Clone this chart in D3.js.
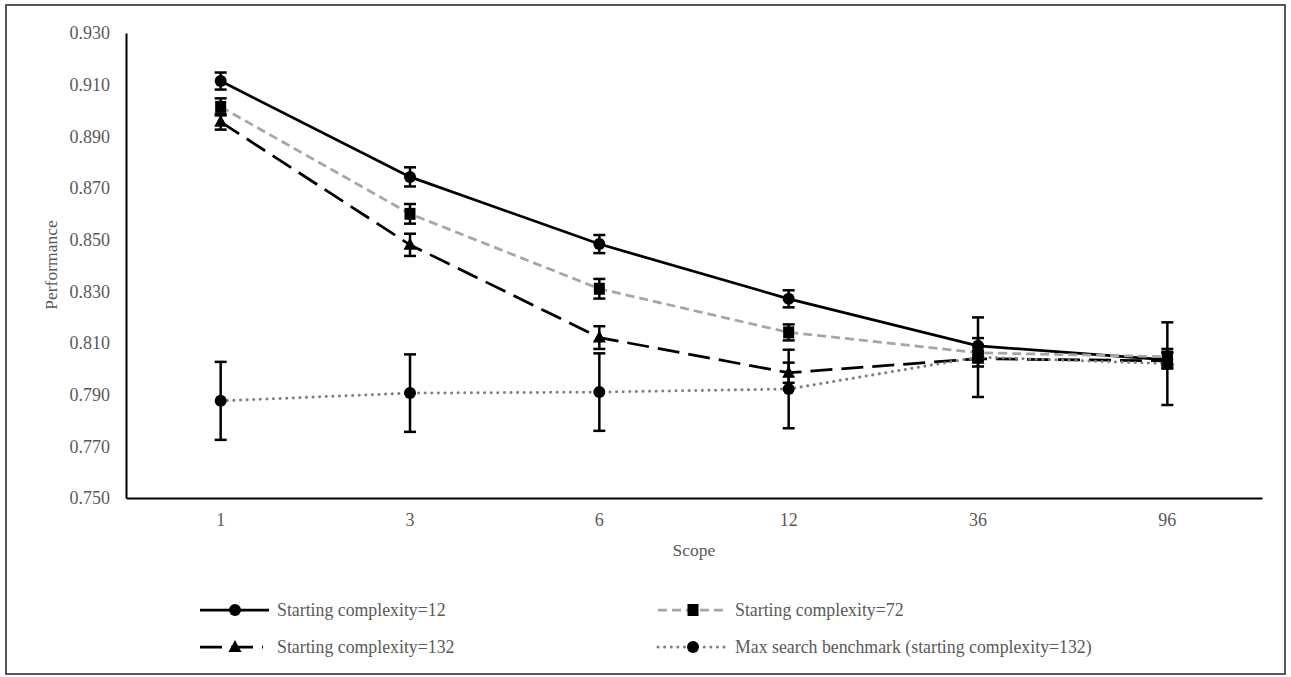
<!DOCTYPE html>
<html>
<head>
<meta charset="utf-8">
<script src="https://cdn.jsdelivr.net/npm/d3@7/dist/d3.min.js"></script>
<style>
  html, body { margin: 0; padding: 0; background: #fff; }
  svg { display: block; }
  text { font-family: "Liberation Serif", "Times New Roman", serif; fill: #595959; }
</style>
</head>
<body>
<svg id="chart" width="1291" height="677"></svg>
<script>
// Scope levels on the x axis
const scopes = ["1", "3", "6", "12", "36", "96"];
const yTicks = [0.75, 0.77, 0.79, 0.81, 0.83, 0.85, 0.87, 0.89, 0.91, 0.93];

// Mean performance per scope, with error-bar half widths
const complexity12 = [0.9114, 0.8743, 0.8483, 0.8271, 0.8089, 0.8035];
const complexity12Err = [0.0033, 0.0037, 0.0035, 0.0033, 0.0030, 0.0030];
const complexity72 = [0.9014, 0.8600, 0.8310, 0.8141, 0.8062, 0.8047];
const complexity72Err = [0.0033, 0.0038, 0.0038, 0.0031, 0.0030, 0.0030];
const complexity132 = [0.8956, 0.8480, 0.8121, 0.7985, 0.8039, 0.8031];
const complexity132Err = [0.0030, 0.0043, 0.0044, 0.0039, 0.0030, 0.0030];
const maxSearch = [0.7876, 0.7906, 0.7910, 0.7922, 0.8045, 0.8020];
const maxSearchErr = [0.0151, 0.0150, 0.0150, 0.0152, 0.0154, 0.0160];

const seriesNames = [
  "Starting complexity=12",
  "Starting complexity=72",
  "Starting complexity=132",
  "Max search benchmark (starting complexity=132)"
];

const series = [
  { name: seriesNames[0], values: complexity12, err: complexity12Err,
    color: "#000", dash: null, width: 2.75, cap: "butt", marker: "circle" },
  { name: seriesNames[1], values: complexity72, err: complexity72Err,
    color: "#a6a6a6", dash: "9,5", width: 2.75, cap: "butt", marker: "square" },
  { name: seriesNames[2], values: complexity132, err: complexity132Err,
    color: "#000", dash: "22,9", width: 2.75, cap: "butt", marker: "triangle" },
  { name: seriesNames[3], values: maxSearch, err: maxSearchErr,
    color: "#7f7f7f", dash: "0.1,6.5", width: 3, cap: "round", marker: "circle" }
];

const svg = d3.select("#chart");

// outer frame
svg.append("rect")
  .attr("x", 6).attr("y", 5).attr("width", 1279).attr("height", 669)
  .attr("fill", "none").attr("stroke", "#404040").attr("stroke-width", 1.75);

const x = d3.scaleBand().domain(scopes).range([126, 1262]);
const y = d3.scaleLinear().domain([0.75, 0.93]).range([498, 33]);

// axes
const yAxis = svg.append("g").attr("transform", "translate(126,0)")
  .call(d3.axisLeft(y).tickValues(yTicks).tickFormat(d3.format(".3f")).tickSize(0).tickPadding(16));
yAxis.select(".domain").attr("stroke", "#000").attr("stroke-width", 2);
yAxis.selectAll("text").style("font-size", "18px").attr("fill", "#595959")
  .style("font-family", "Liberation Serif");

const xAxis = svg.append("g").attr("transform", "translate(0,498)")
  .call(d3.axisBottom(x).tickSize(0).tickPadding(15));
xAxis.select(".domain").attr("stroke", "#000").attr("stroke-width", 2);
xAxis.selectAll("text").style("font-size", "18px").attr("fill", "#595959")
  .style("font-family", "Liberation Serif");

// axis titles
svg.append("text").attr("x", 694).attr("y", 556)
  .attr("text-anchor", "middle").style("font-size", "17.5px").text("Scope");
svg.append("text")
  .attr("transform", "translate(57,265) rotate(-90)")
  .attr("text-anchor", "middle").style("font-size", "17.5px").text("Performance");

const cx = i => x(scopes[i]) + x.bandwidth() / 2;

function drawMarker(g, type, px, py) {
  if (type === "circle") {
    g.append("circle").attr("cx", px).attr("cy", py).attr("r", 6).attr("fill", "#000");
  } else if (type === "square") {
    g.append("rect").attr("x", px - 5.5).attr("y", py - 6).attr("width", 11).attr("height", 12).attr("fill", "#000");
  } else {
    g.append("path")
      .attr("d", `M${px},${py - 7}L${px + 6.5},${py + 5}L${px - 6.5},${py + 5}Z`)
      .attr("fill", "#000");
  }
}

const plot = svg.append("g");
series.forEach(s => {
  const g = plot.append("g");
  const line = d3.line().x((d, i) => cx(i)).y(d => y(d));
  g.append("path").datum(s.values)
    .attr("d", line)
    .attr("fill", "none")
    .attr("stroke", s.color)
    .attr("stroke-width", s.width)
    .attr("stroke-linecap", s.cap)
    .attr("stroke-dasharray", s.dash);

  // error bars
  s.values.forEach((v, i) => {
    const px = cx(i), top = y(v + s.err[i]), bot = y(v - s.err[i]);
    g.append("line").attr("x1", px).attr("x2", px).attr("y1", top).attr("y2", bot)
      .attr("stroke", "#000").attr("stroke-width", 2.5);
    [top, bot].forEach(yy => {
      g.append("line").attr("x1", px - 6).attr("x2", px + 6).attr("y1", yy).attr("y2", yy)
        .attr("stroke", "#000").attr("stroke-width", 2.5);
    });
  });

  s.values.forEach((v, i) => drawMarker(g, s.marker, cx(i), y(v)));
});

// legend
const legendPos = [
  { x: 200, y: 610, len: 69 },
  { x: 658, y: 610, len: 67 },
  { x: 200, y: 647, len: 63 },
  { x: 658, y: 647, len: 67 }
];
series.forEach((s, k) => {
  const p = legendPos[k];
  const g = svg.append("g");
  g.append("line")
    .attr("x1", p.x).attr("x2", p.x + p.len).attr("y1", p.y).attr("y2", p.y)
    .attr("stroke", s.color).attr("stroke-width", s.width)
    .attr("stroke-linecap", s.cap)
    .attr("stroke-dasharray", s.dash);
  drawMarker(g, s.marker, p.x + 35, p.y);
  g.append("text").attr("x", p.x + 77).attr("y", p.y + 6)
    .style("font-size", "17.8px").text(s.name);
});
</script>
</body>
</html>
